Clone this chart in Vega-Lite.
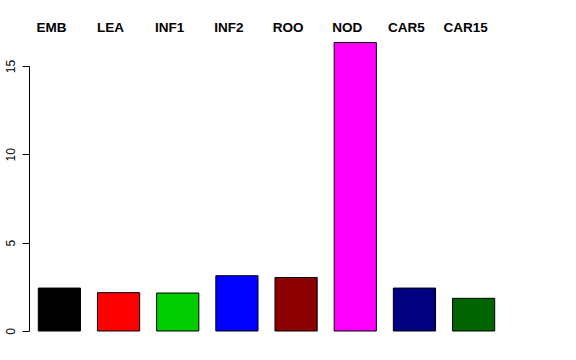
{
  "$schema": "https://vega.github.io/schema/vega-lite/v6.json",
  "autosize": {"type": "none"},
  "padding": {"left": 29, "top": 66, "right": 72, "bottom": 29},
  "width": 475,
  "height": 265,
  "background": "white",
  "config": {"view": {"stroke": null}, "font": "Liberation Sans"},
  "data": {"values": [
    {"tissue": "EMB", "value": 2.43, "color": "#000000"},
    {"tissue": "LEA", "value": 2.17, "color": "#FF0000"},
    {"tissue": "INF1", "value": 2.15, "color": "#00CD00"},
    {"tissue": "INF2", "value": 3.13, "color": "#0000FF"},
    {"tissue": "ROO", "value": 3.03, "color": "#8B0000"},
    {"tissue": "NOD", "value": 16.33, "color": "#FF00FF"},
    {"tissue": "CAR5", "value": 2.43, "color": "#000080"},
    {"tissue": "CAR15", "value": 1.85, "color": "#006400"}
  ]},
  "mark": {"type": "bar", "stroke": "#000000", "strokeWidth": 1, "clip": false},
  "encoding": {
    "x": {
      "field": "tissue", "type": "nominal", "sort": null,
      "scale": {"paddingInner": 0.287, "paddingOuter": 0.157},
      "axis": {"orient": "top", "title": null, "ticks": false, "domain": false, "labelAngle": 0,
        "labelFont": "Liberation Sans", "labelFontWeight": "bold", "labelFontSize": 13.5, "labelColor": "#000000",
        "labelPadding": 32, "labelOffset": -8}
    },
    "y": {
      "field": "value", "type": "quantitative",
      "scale": {"domain": [0, 15], "nice": false, "zero": true},
      "axis": {"title": null, "values": [0, 5, 10, 15], "grid": false, "tickSize": 7, "tickColor": "#000000",
        "domainColor": "#000000", "labelAngle": 270, "labelAlign": "center", "labelBaseline": "bottom",
        "labelFont": "Liberation Sans", "labelFontSize": 12, "labelColor": "#000000", "labelPadding": 5}
    },
    "fill": {"field": "color", "type": "nominal", "scale": null}
  }
}
